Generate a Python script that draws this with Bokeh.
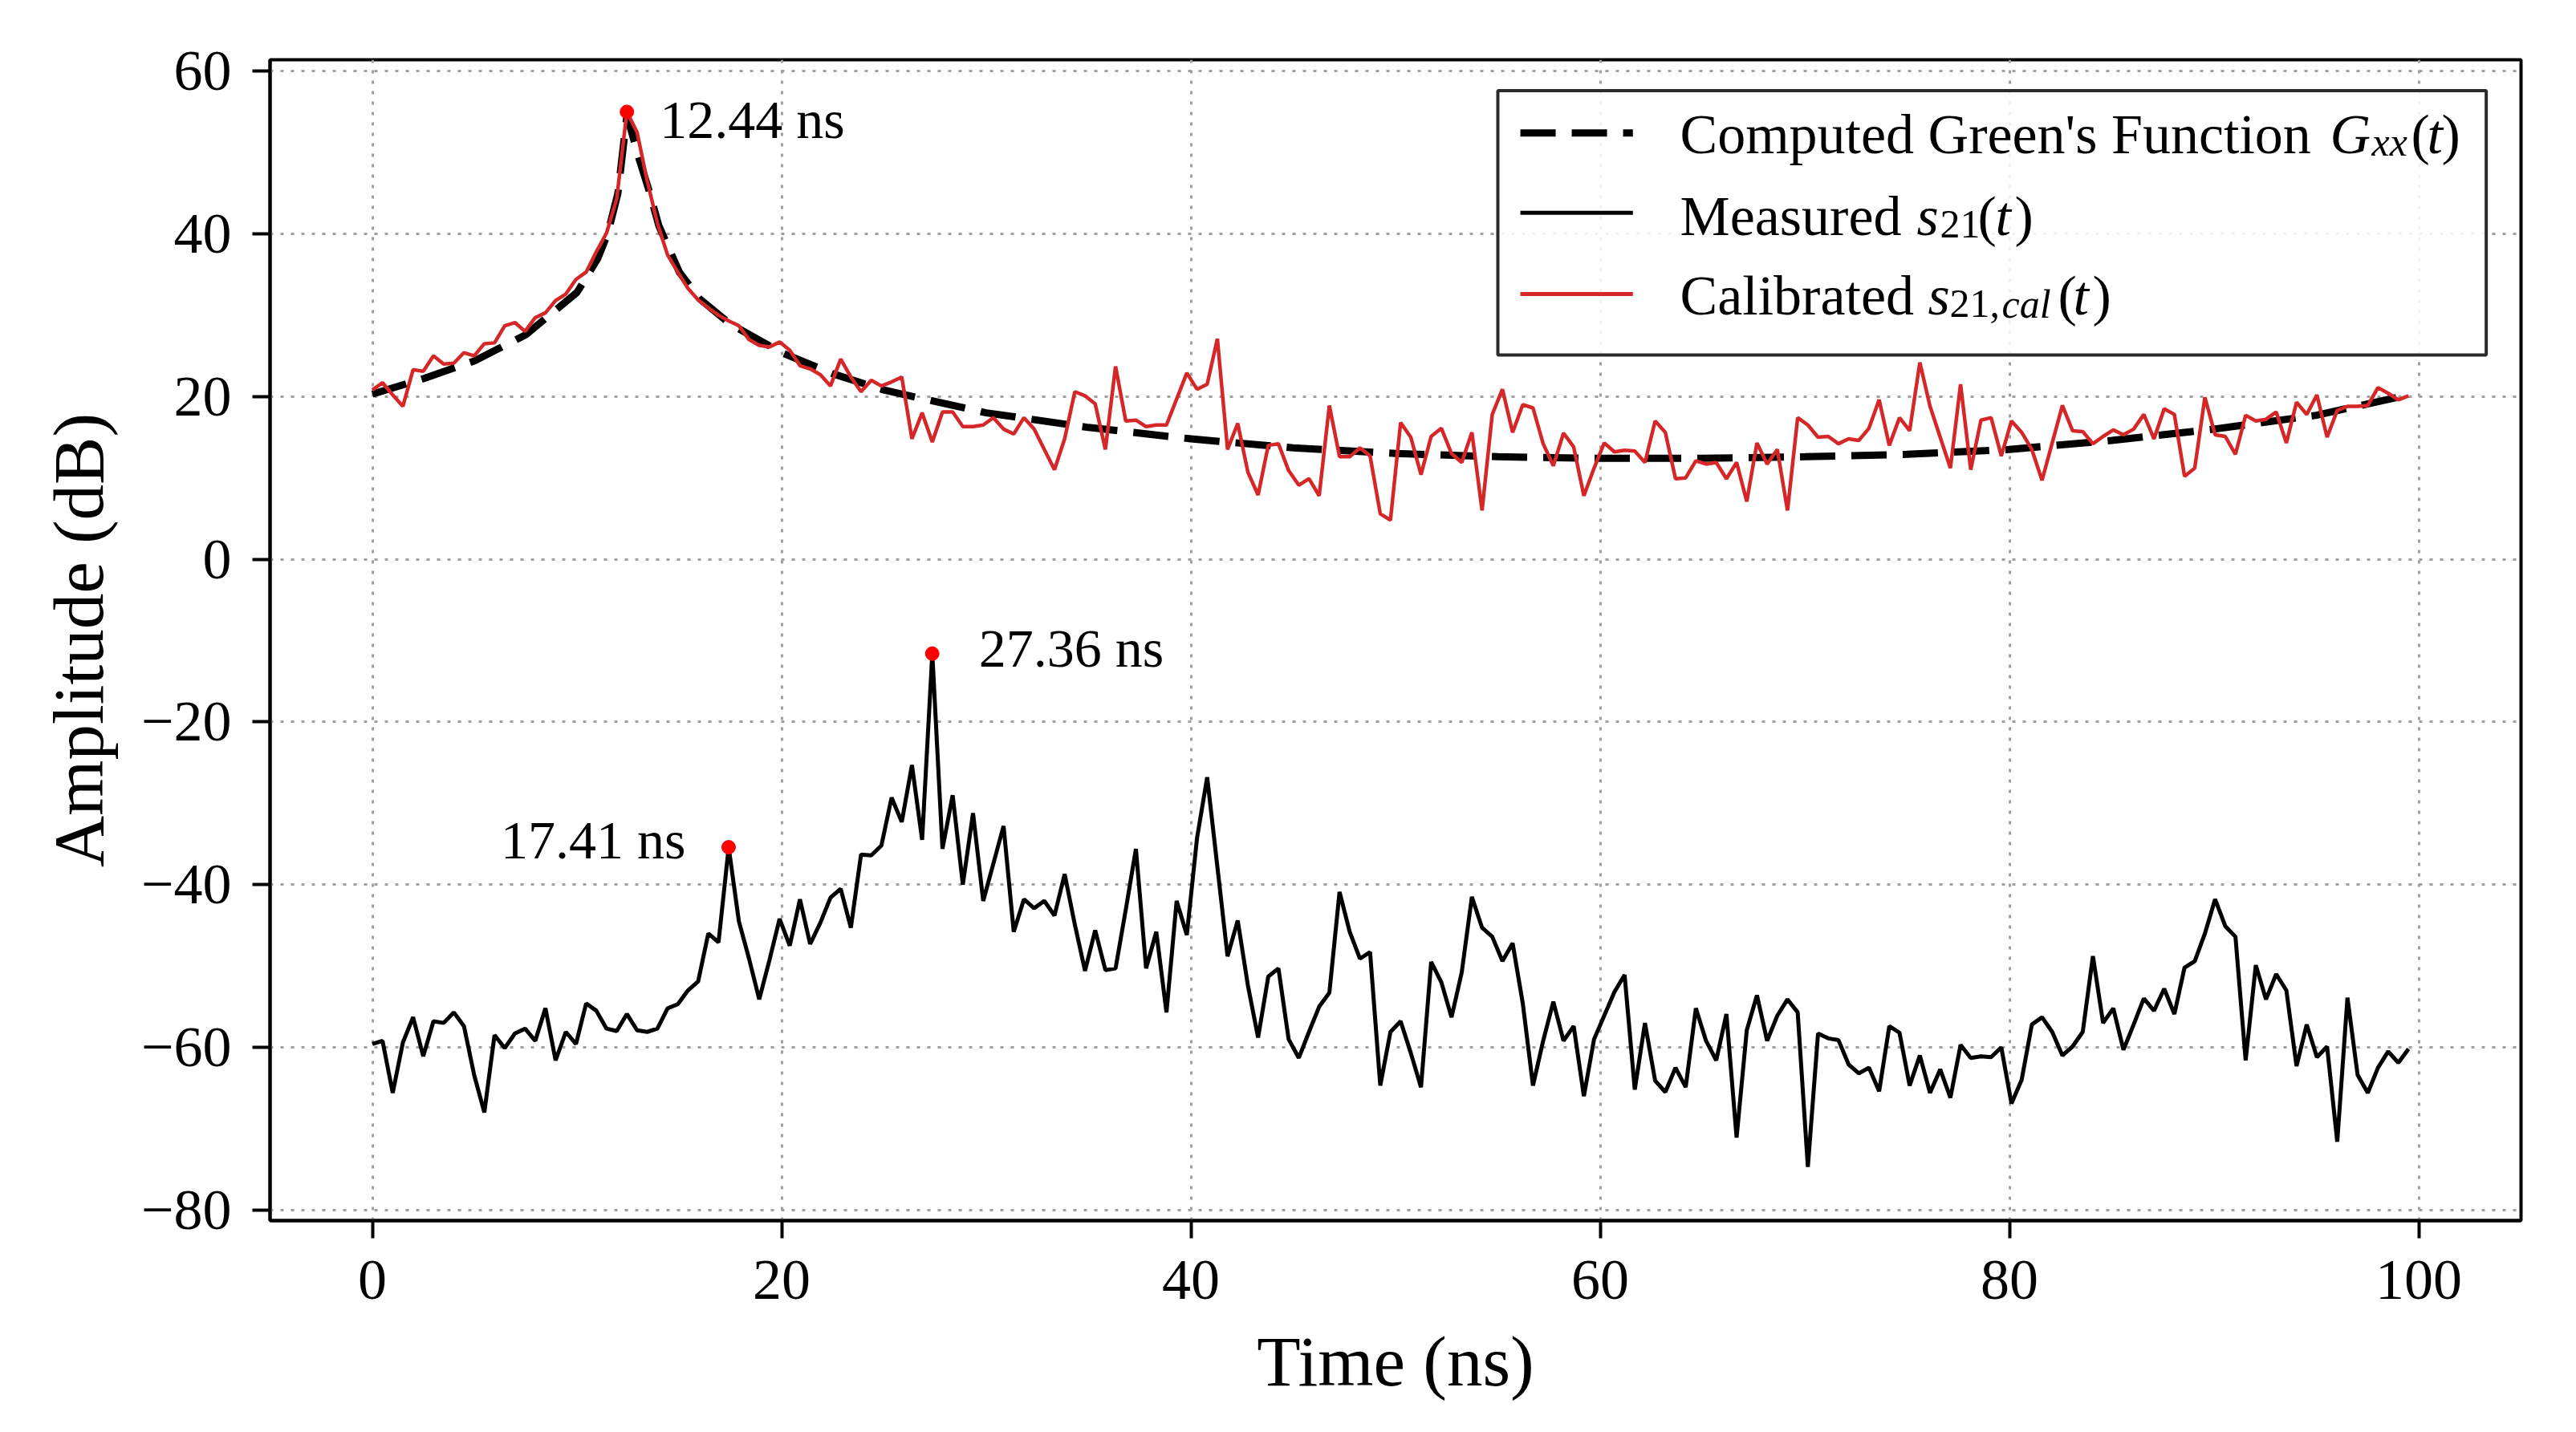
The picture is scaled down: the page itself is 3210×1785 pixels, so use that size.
from bokeh.plotting import figure
from bokeh.models import FixedTicker, Range1d
from bokeh.core.properties import value
from bokeh.embed import file_html
from bokeh.resources import INLINE

# sampling step of the traces (ns)
DT = 100 / 201

measured_db = [
    -59.6, -59.2, -65.6, -59.4, -56.3, -61.1, -56.8, -57.0, -55.7, -57.4,
    -63.4, -68.0, -58.5, -60.1, -58.3, -57.7, -59.2, -55.2, -61.6, -58.1,
    -59.6, -54.6, -55.5, -57.7, -58.0, -55.9, -57.9, -58.1, -57.7, -55.2,
    -54.7, -53.0, -51.9, -46.0, -47.1, -35.4, -44.5, -49.1, -54.1, -49.3,
    -44.2, -47.5, -41.8, -47.3, -44.7, -41.6, -40.5, -45.3, -36.3, -36.4,
    -35.2, -29.3, -32.3, -25.3, -34.5, -11.6, -35.6, -29.0, -40.0, -31.2,
    -42.0, -37.4, -32.8, -45.8, -41.8, -42.9, -42.0, -43.8, -38.7, -44.9,
    -50.6, -45.6, -50.5, -50.3, -43.1, -35.6, -50.3, -45.8, -55.7, -42.0,
    -46.2, -34.3, -26.8, -37.8, -48.8, -44.4, -52.4, -58.8, -51.3, -50.3,
    -59.0, -61.3, -58.1, -55.0, -53.3, -40.9, -45.8, -49.1, -48.3, -64.7,
    -58.1, -56.8, -60.7,
    -64.9, -49.5, -52.0, -56.3, -50.8, -41.5, -45.3, -46.4, -49.4, -47.2,
    -54.6, -64.7, -59.2, -54.4, -59.2, -57.4, -66.0, -59.0, -56.1, -53.2,
    -51.1, -65.2, -57.0, -64.1, -65.5, -62.5, -64.9, -55.2, -59.2, -61.6,
    -55.9, -71.1, -57.9, -53.6, -59.2, -56.1, -54.1, -55.7, -74.7, -58.3,
    -58.9, -59.1, -62.1, -63.2, -62.5, -65.4, -57.4, -58.2, -64.7, -61.0,
    -65.6, -62.7, -66.2, -59.7, -61.3, -61.1, -61.2, -60.0, -66.9, -64.0,
    -57.2, -56.3, -58.1, -61.0, -59.9, -58.1, -48.8, -57.0, -55.2, -60.3,
    -57.2, -54.0, -55.5, -52.8, -55.9, -50.2, -49.4, -46.0, -41.8, -45.1,
    -46.4, -61.6, -49.9, -54.1, -51.0, -53.0, -62.3, -57.2, -61.2, -59.9,
    -71.6, -53.9, -63.4, -65.6, -62.5, -60.5, -61.9, -60.2,
]

calibrated_db = [
    20.8, 21.7, 20.2, 18.8, 23.3, 23.1, 25.0, 24.0, 24.1, 25.4,
    25.0, 26.5, 26.6, 28.7, 29.1, 28.0, 29.7, 30.3, 31.8, 32.6,
    34.4, 35.3, 37.8, 40.1, 44.3, 55.0, 52.5, 46.5, 41.3, 37.4,
    35.3, 33.3, 31.9, 30.9, 30.0, 29.3, 28.7, 27.0, 26.3, 26.1,
    26.7, 25.7, 23.8, 23.4, 22.7, 21.3, 24.6, 22.4, 20.6, 22.0,
    21.3, 21.8, 22.4, 14.8, 18.0, 14.4, 18.1, 18.1, 16.3, 16.3,
    16.5, 17.4, 16.0, 15.4, 17.4, 16.0, 13.5, 11.0, 14.8, 20.6,
    20.1, 19.1, 13.5, 23.7, 17.0, 17.1, 16.3, 16.5, 16.5, 19.7,
    22.9, 20.9, 21.5, 27.1, 13.5, 16.7, 10.7, 7.9, 14.0, 14.2,
    10.9, 9.1, 9.9, 7.8, 18.9, 12.6, 12.6, 13.7, 12.7, 5.6,
    4.8, 16.8, 15.0, 10.4, 15.1, 16.1, 13.0, 11.9, 15.6, 6.0,
    17.8, 20.9, 15.6, 19.0, 18.6, 14.2, 11.5, 15.5, 13.8, 7.8,
    11.2, 14.3, 13.2, 13.4, 13.3, 11.9, 17.0, 15.6, 9.9, 10.0,
    12.1, 11.7, 11.9, 9.9, 11.9, 7.1, 14.3, 11.7, 13.5, 6.0,
    17.4, 16.5, 15.0, 15.1, 14.2, 14.8, 14.6, 16.1, 19.6, 14.0,
    17.4, 15.8, 24.2, 18.8, 15.0, 11.2, 21.5, 11.0, 17.1, 17.4,
    12.7, 17.0, 15.6, 13.5, 9.7, 14.3, 18.9, 15.8, 15.7, 14.2,
    15.1, 15.9, 15.3, 16.0, 17.8, 14.8, 18.5, 17.8, 10.2, 11.2,
    19.9, 15.3, 15.1, 12.9, 17.7, 17.0, 17.2, 18.1, 14.3, 19.3,
    17.8, 20.2, 15.0, 18.3, 18.8, 18.8, 18.9, 21.1, 20.4, 19.6,
    20.1,
]

time_ns = [k * DT for k in range(len(measured_db))]

# computed Green's function G_xx(t)
green_time = [0, 2.5, 5, 7.5, 10, 11, 11.5, 12, 12.44, 13, 13.5, 14, 15, 16,
              17.5, 20, 22.5, 25, 30, 35, 40, 45, 50, 55, 60, 65, 70, 75,
              80, 85, 90, 95, 99.5]
green_db = [20.3, 22.2, 24.4, 27.6, 32.8, 36.9, 40.0, 45.0, 54.6, 49.5, 45.5,
            41.0, 35.3, 32.0, 28.9, 25.4, 22.8, 20.8, 18.0, 16.2, 14.8, 13.7,
            13.0, 12.6, 12.4, 12.4, 12.6, 12.9, 13.5, 14.6, 16.0, 17.7, 20.2]

# marked peaks
peak_time = [12.44, 27.36, 17.41]
peak_db = [55.0, -11.6, -35.4]

x_ticks = [0, 20, 40, 60, 80, 100]
y_ticks = [-80, -60, -40, -20, 0, 20, 40, 60]

SERIF = "Liberation Serif"
RED = "#d62728"
TXT_SHIFT = -22  # raise alphabetic baseline to where it sits in the original

p = figure(
    frame_width=2805,
    frame_height=1447,
    x_range=Range1d(-5, 105),
    y_range=Range1d(-81.3, 61.4),
    min_border_left=336,
    min_border_top=74,
    min_border_right=40,
    min_border_bottom=200,
    output_backend="svg",
    toolbar_location=None,
)
p.background_fill_color = "white"
p.border_fill_color = "white"
p.outline_line_color = "black"
p.outline_line_width = 4

p.xaxis.ticker = FixedTicker(ticks=x_ticks)
p.yaxis.ticker = FixedTicker(ticks=y_ticks)
p.yaxis.major_label_overrides = {v: str(v).replace("-", "\u2212") for v in y_ticks}
p.xaxis.axis_label = "Time (ns)"
p.yaxis.axis_label = "Amplitude (dB)"
p.axis.axis_label_text_font = SERIF
p.axis.axis_label_text_font_size = "89px"
p.axis.axis_label_text_font_style = "normal"
p.axis.axis_label_text_color = "black"
p.axis.major_label_text_font = SERIF
p.axis.major_label_text_font_size = "72px"
p.axis.major_label_text_color = "black"
p.axis.axis_line_width = 4
p.axis.axis_line_color = "black"
p.axis.major_tick_line_width = 4
p.axis.major_tick_line_color = "black"
p.axis.major_tick_out = 22
p.axis.major_tick_in = 0
p.axis.minor_tick_line_color = None
p.xaxis.major_label_standoff = 28
p.yaxis.major_label_standoff = 26
p.xaxis.axis_label_standoff = 26
p.yaxis.axis_label_standoff = 26

p.grid.grid_line_color = "#a0a0a0"
p.grid.grid_line_width = 3
p.grid.grid_line_dash = "4 9"

# traces
p.line(time_ns, measured_db, line_color="black", line_width=5)
p.line(green_time, green_db, line_color="black", line_width=9, line_dash="44 20")
p.line(time_ns, calibrated_db, line_color=RED, line_width=4.5)

# peak markers and their labels
p.scatter(peak_time, peak_db, size=17, color="red")
p.text(peak_time, peak_db, text=[f"{t:.2f} ns" for t in peak_time],
       x_offset=[41, 58, -284], y_offset=[32 + TXT_SHIFT, 15 + TXT_SHIFT, 13 + TXT_SHIFT],
       text_font=value(SERIF), text_font_size="68px", text_color="black",
       text_baseline="alphabetic", text_align="left")

# legend drawn by hand (mixed italic / subscript labels)
p.quad(left=[55.0], right=[103.3], bottom=[25.1], top=[57.6],
       fill_color="white", fill_alpha=0.85, line_color="#2a2a2a", line_width=4)
p.line([56.1, 61.6], [52.4, 52.4], line_color="black", line_width=9, line_dash="44 20")
p.line([56.1, 61.6], [42.6, 42.6], line_color="black", line_width=5)
p.line([56.1, 61.6], [32.6, 32.6], line_color=RED, line_width=5)

TX = 63.9
rows = [50.1, 40.0, 30.2]
main_txt = ["Computed Green's Function", "Measured", "Calibrated", "(", ")", "(", ")", "(", ")"]
main_dx = [0, 0, 0, 911, 949, 371, 417, 471, 514]
main_row = [0, 1, 2, 0, 0, 1, 1, 2, 2]
p.text([TX] * len(main_txt), [rows[r] for r in main_row], text=main_txt, x_offset=main_dx,
       y_offset=TXT_SHIFT, text_font=value(SERIF), text_font_size="70px", text_color="black",
       text_baseline="alphabetic", text_align="left")

ital_txt = ["G", "t", "s", "t", "s", "t"]
ital_dx = [810, 931, 295, 393, 309, 490]
ital_row = [0, 0, 1, 1, 2, 2]
p.text([TX] * len(ital_txt), [rows[r] for r in ital_row], text=ital_txt, x_offset=ital_dx,
       y_offset=TXT_SHIFT, text_font=value(SERIF), text_font_size="70px", text_font_style="italic",
       text_color="black", text_baseline="alphabetic", text_align="left")

sub_txt = ["21", "21,"]
sub_dx = [324, 336]
sub_row = [1, 2]
p.text([TX] * len(sub_txt), [rows[r] for r in sub_row], text=sub_txt, x_offset=sub_dx,
       y_offset=TXT_SHIFT + 10, text_font=value(SERIF), text_font_size="50px", text_color="black",
       text_baseline="alphabetic", text_align="left")

subi_txt = ["xx", "cal"]
subi_dx = [862, 401]
subi_row = [0, 2]
p.text([TX] * len(subi_txt), [rows[r] for r in subi_row], text=subi_txt, x_offset=subi_dx,
       y_offset=TXT_SHIFT + 10, text_font=value(SERIF), text_font_size="50px", text_font_style="italic",
       text_color="black", text_baseline="alphabetic", text_align="left")

open("out.html", "w").write(file_html(p, INLINE))
